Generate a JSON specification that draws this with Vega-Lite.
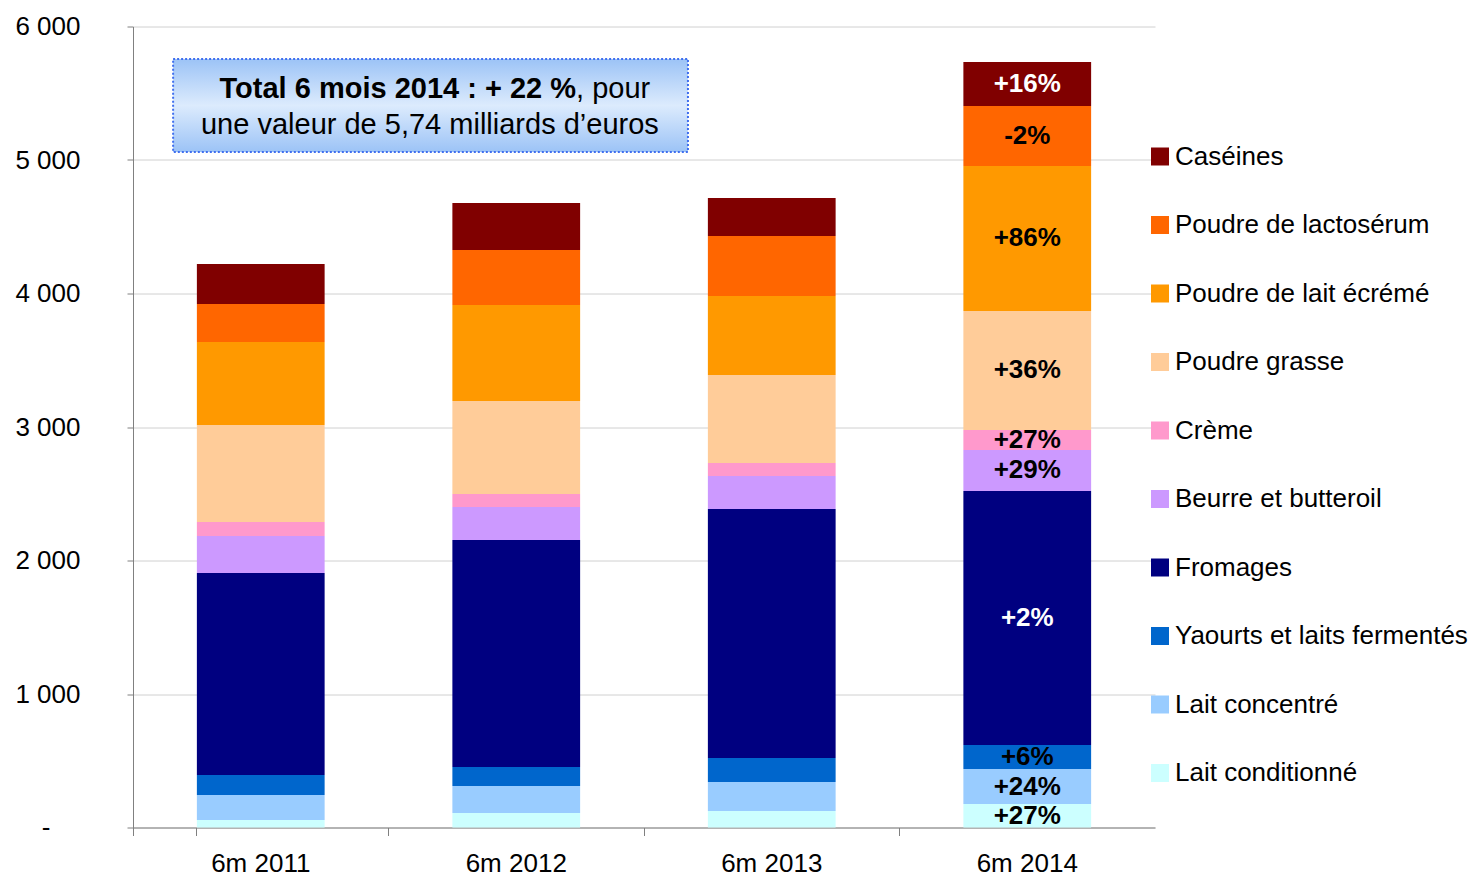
{
  "$schema": "https://vega.github.io/schema/vega-lite/v6.json",
  "autosize": {"type": "none"},
  "width": 1022,
  "height": 801,
  "padding": {"left": 133, "top": 26.5, "right": 329, "bottom": 51.5},
  "background": "white",
  "config": {
    "font": "Liberation Sans",
    "view": {"stroke": null},
    "axis": {"labelFont": "Liberation Sans", "labelColor": "#000000", "title": null}
  },
  "datasets": {
    "exports": [
      {"year": "6m 2011", "product": "Lait conditionné", "ord": 1, "value": 56},
      {"year": "6m 2011", "product": "Lait concentré", "ord": 2, "value": 187},
      {"year": "6m 2011", "product": "Yaourts et laits fermentés", "ord": 3, "value": 150},
      {"year": "6m 2011", "product": "Fromages", "ord": 4, "value": 1513},
      {"year": "6m 2011", "product": "Beurre et butteroil", "ord": 5, "value": 278},
      {"year": "6m 2011", "product": "Crème", "ord": 6, "value": 104},
      {"year": "6m 2011", "product": "Poudre grasse", "ord": 7, "value": 727},
      {"year": "6m 2011", "product": "Poudre de lait écrémé", "ord": 8, "value": 622},
      {"year": "6m 2011", "product": "Poudre de lactosérum", "ord": 9, "value": 284},
      {"year": "6m 2011", "product": "Caséines", "ord": 10, "value": 300},
      {"year": "6m 2012", "product": "Lait conditionné", "ord": 1, "value": 109},
      {"year": "6m 2012", "product": "Lait concentré", "ord": 2, "value": 202},
      {"year": "6m 2012", "product": "Yaourts et laits fermentés", "ord": 3, "value": 142},
      {"year": "6m 2012", "product": "Fromages", "ord": 4, "value": 1701},
      {"year": "6m 2012", "product": "Beurre et butteroil", "ord": 5, "value": 247},
      {"year": "6m 2012", "product": "Crème", "ord": 6, "value": 97},
      {"year": "6m 2012", "product": "Poudre grasse", "ord": 7, "value": 697},
      {"year": "6m 2012", "product": "Poudre de lait écrémé", "ord": 8, "value": 719},
      {"year": "6m 2012", "product": "Poudre de lactosérum", "ord": 9, "value": 412},
      {"year": "6m 2012", "product": "Caséines", "ord": 10, "value": 352},
      {"year": "6m 2013", "product": "Lait conditionné", "ord": 1, "value": 124},
      {"year": "6m 2013", "product": "Lait concentré", "ord": 2, "value": 217},
      {"year": "6m 2013", "product": "Yaourts et laits fermentés", "ord": 3, "value": 180},
      {"year": "6m 2013", "product": "Fromages", "ord": 4, "value": 1865},
      {"year": "6m 2013", "product": "Beurre et butteroil", "ord": 5, "value": 247},
      {"year": "6m 2013", "product": "Crème", "ord": 6, "value": 97},
      {"year": "6m 2013", "product": "Poudre grasse", "ord": 7, "value": 660},
      {"year": "6m 2013", "product": "Poudre de lait écrémé", "ord": 8, "value": 591},
      {"year": "6m 2013", "product": "Poudre de lactosérum", "ord": 9, "value": 450},
      {"year": "6m 2013", "product": "Caséines", "ord": 10, "value": 284},
      {"year": "6m 2014", "product": "Lait conditionné", "ord": 1, "value": 176, "label": "+27%"},
      {"year": "6m 2014", "product": "Lait concentré", "ord": 2, "value": 262, "label": "+24%"},
      {"year": "6m 2014", "product": "Yaourts et laits fermentés", "ord": 3, "value": 180, "label": "+6%"},
      {"year": "6m 2014", "product": "Fromages", "ord": 4, "value": 1903, "label": "+2%"},
      {"year": "6m 2014", "product": "Beurre et butteroil", "ord": 5, "value": 307, "label": "+29%"},
      {"year": "6m 2014", "product": "Crème", "ord": 6, "value": 150, "label": "+27%"},
      {"year": "6m 2014", "product": "Poudre grasse", "ord": 7, "value": 891, "label": "+36%"},
      {"year": "6m 2014", "product": "Poudre de lait écrémé", "ord": 8, "value": 1086, "label": "+86%"},
      {"year": "6m 2014", "product": "Poudre de lactosérum", "ord": 9, "value": 449, "label": "-2%"},
      {"year": "6m 2014", "product": "Caséines", "ord": 10, "value": 330, "label": "+16%"}
    ],
    "note": [
      {"line1bold": "Total 6 mois 2014 : + 22 %", "line1": ", pour", "line2": "une valeur de 5,74 milliards d’euros"}
    ]
  },
  "resolve": {"scale": {"x": "independent"}},
  "layer": [
    {
      "data": {"name": "exports"},
      "transform": [
        {"stack": "value", "groupby": ["year"], "sort": [{"field": "ord", "order": "ascending"}], "as": ["v0", "v1"]},
        {"calculate": "(datum.v0 + datum.v1) / 2", "as": "vmid"}
      ],
      "encoding": {
        "x": {
          "field": "year", "type": "nominal", "sort": null,
          "scale": {"paddingInner": 0.5, "paddingOuter": 0.25},
          "axis": {
            "labelAngle": 0, "labelFontSize": 26, "labelPadding": 15,
            "tickSize": 8, "tickColor": "#808080", "domainColor": "#808080",
            "bandPosition": -0.5, "tickExtra": true, "grid": false
          }
        }
      },
      "layer": [
        {
          "mark": {"type": "bar"},
          "encoding": {
            "y": {
              "field": "v0", "type": "quantitative",
              "scale": {"domain": [0, 6000], "nice": false},
              "axis": {
                "values": [0, 1000, 2000, 3000, 4000, 5000, 6000],
                "labelExpr": "datum.value == 0 ? '-' : replace(format(datum.value, ','), ',', ' ')",
                "labelFontSize": 26,
                "labelPadding": {"condition": {"test": "datum.value == 0", "value": 77}, "value": 47},
                "tickSize": 6,
                "tickColor": "#808080", "domainColor": "#808080",
                "gridColor": "#d0d0d0", "grid": true
              }
            },
            "y2": {"field": "v1"},
            "color": {
              "field": "product", "type": "nominal",
              "scale": {
                "domain": ["Caséines", "Poudre de lactosérum", "Poudre de lait écrémé", "Poudre grasse", "Crème", "Beurre et butteroil", "Fromages", "Yaourts et laits fermentés", "Lait concentré", "Lait conditionné"],
                "range": ["#800000", "#FF6600", "#FF9900", "#FFCC99", "#FF99CC", "#CC99FF", "#000080", "#0066CC", "#99CCFF", "#CCFFFF"]
              },
              "legend": {
                "title": null, "orient": "none", "legendX": 1014, "legendY": 117,
                "padding": 0, "symbolType": "square", "symbolSize": 324, "symbolStrokeWidth": 0,
                "labelFontSize": 26, "labelColor": "#000000", "labelOffset": 2,
                "rowPadding": 42.5, "labelLimit": 400
              }
            }
          }
        },
        {
          "transform": [{"filter": "datum.label"}],
          "mark": {"type": "text", "fontSize": 26, "fontWeight": "bold", "baseline": "middle", "align": "center"},
          "encoding": {
            "y": {"field": "vmid", "type": "quantitative"},
            "text": {"field": "label"},
            "color": {
              "condition": {"test": "datum.product === 'Fromages' || datum.product === 'Caséines'", "value": "#ffffff"},
              "value": "#000000"
            }
          }
        }
      ]
    },
    {
      "data": {"name": "note"},
      "encoding": {
        "x": {"datum": 0.157, "type": "quantitative", "scale": {"domain": [0, 4], "nice": false, "zero": false}, "axis": null}
      },
      "layer": [
        {
          "mark": {
            "type": "rect",
            "stroke": "#3f6fef", "strokeWidth": 2, "strokeDash": [2, 2],
            "fill": {
              "gradient": "linear", "x1": 0, "y1": 0, "x2": 0, "y2": 1,
              "stops": [
                {"offset": 0, "color": "#9cc3f6"},
                {"offset": 0.5, "color": "#dcebfd"},
                {"offset": 1, "color": "#9cc3f6"}
              ]
            }
          },
          "encoding": {
            "x": {"datum": 0.157, "type": "quantitative"},
            "x2": {"datum": 2.172},
            "y": {"datum": 5060, "type": "quantitative"},
            "y2": {"datum": 5757}
          }
        },
        {
          "mark": {"type": "text", "fontSize": 29, "fontWeight": "bold", "align": "right", "baseline": "middle", "color": "#000000"},
          "encoding": {
            "x": {"datum": 1.734, "type": "quantitative"},
            "y": {"datum": 5532, "type": "quantitative"},
            "text": {"field": "line1bold"}
          }
        },
        {
          "mark": {"type": "text", "fontSize": 29, "align": "left", "baseline": "middle", "color": "#000000"},
          "encoding": {
            "x": {"datum": 1.734, "type": "quantitative"},
            "y": {"datum": 5532, "type": "quantitative"},
            "text": {"field": "line1"}
          }
        },
        {
          "mark": {"type": "text", "fontSize": 29, "align": "center", "baseline": "middle", "color": "#000000"},
          "encoding": {
            "x": {"datum": 1.162, "type": "quantitative"},
            "y": {"datum": 5262, "type": "quantitative"},
            "text": {"field": "line2"}
          }
        }
      ]
    }
  ]
}
